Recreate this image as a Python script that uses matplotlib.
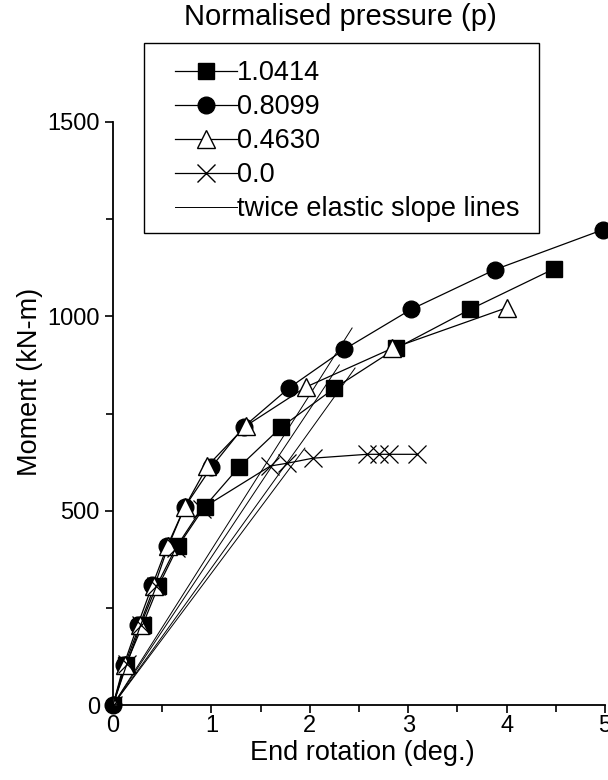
import matplotlib
matplotlib.use("Agg")
import matplotlib.pyplot as plt
from matplotlib.lines import Line2D
from matplotlib.patches import Rectangle
from matplotlib.ticker import MultipleLocator

plt.rcParams["font.family"] = ["Liberation Sans", "DejaVu Sans"]

# p = 1.0414 (squares)
rot_1 = [0.0, 0.13, 0.30, 0.46, 0.66, 0.93, 1.28, 1.71, 2.25, 2.88, 3.63, 4.48]
mom_1 = [0, 103, 205, 305, 408, 510, 612, 715, 815, 918, 1018, 1122]

# p = 0.8099 (circles)
rot_2 = [0.0, 0.11, 0.25, 0.40, 0.55, 0.73, 1.00, 1.33, 1.79, 2.35, 3.03, 3.88, 4.98]
mom_2 = [0, 103, 205, 308, 408, 510, 612, 716, 816, 915, 1018, 1120, 1223]

# p = 0.4630 (triangles)
rot_3 = [0.0, 0.12, 0.27, 0.42, 0.56, 0.73, 0.96, 1.35, 1.96, 2.84, 4.00]
mom_3 = [0, 103, 205, 305, 408, 510, 615, 718, 818, 918, 1022]

# p = 0.0 (crosses)
rot_4 = [0.0, 0.14, 0.28, 0.44, 0.64, 0.90, 1.60, 1.77, 2.03, 2.58, 2.70, 2.80, 3.09]
mom_4 = [0, 105, 205, 305, 405, 505, 615, 622, 635, 645, 645, 645, 645]

# twice elastic slope lines (end points, all start at origin)
slope_end_rot = [2.43, 2.30, 2.46, 1.95]
slope_end_mom = [970, 875, 867, 661]

W, H = 608, 780
fig = plt.figure(figsize=(W / 100, H / 100), dpi=100)
ax = fig.add_axes([113 / W, 1 - 705 / H, 492 / W, (705 - 122) / H])

for xe, ye in zip(slope_end_rot, slope_end_mom):
    ax.plot([0, xe], [0, ye], color="black", lw=0.7)

ax.plot(rot_1, mom_1, color="black", lw=0.9, marker="s", ms=11, mfc="black", mec="black")
ax.plot(rot_2, mom_2, color="black", lw=0.9, marker="o", ms=12, mfc="black", mec="black", clip_on=False)
ax.plot(rot_3, mom_3, color="black", lw=0.9, marker="^", ms=13, mfc="white", mec="black", mew=1.0)
ax.plot(rot_4, mom_4, color="black", lw=0.9, marker="x", ms=13, mec="black", mew=0.9)

ax.set_xlim(0, 5)
ax.set_ylim(0, 1500)
ax.xaxis.set_major_locator(MultipleLocator(1))
ax.xaxis.set_minor_locator(MultipleLocator(0.5))
ax.yaxis.set_major_locator(MultipleLocator(500))
ax.yaxis.set_minor_locator(MultipleLocator(250))
ax.tick_params(which="both", direction="out", labelsize=17, width=1.2)
ax.tick_params(which="major", length=6)
ax.tick_params(which="minor", length=5)
ax.tick_params(axis="x", which="major", pad=1)
ax.spines[["top", "right"]].set_visible(False)
ax.spines[["left", "bottom"]].set_linewidth(1.3)
ax.patch.set_alpha(0)

ax.set_xlabel("End rotation (deg.)", fontsize=19.5)
ax.set_ylabel("Moment (kN-m)", fontsize=19.5)
ax.xaxis.set_label_coords((362 - 113) / 492, (705 - 740) / 583)
ax.yaxis.set_label_coords((43 - 113) / 492, (705 - 382) / 583)

handles = [
    Line2D([], [], color="black", lw=0.9, marker="s", ms=11, mfc="black", mec="black"),
    Line2D([], [], color="black", lw=0.9, marker="o", ms=12, mfc="black", mec="black"),
    Line2D([], [], color="black", lw=0.9, marker="^", ms=13, mfc="white", mec="black"),
    Line2D([], [], color="black", lw=0.9, marker="x", ms=13, mec="black"),
    Line2D([], [], color="black", lw=0.7),
]
labels = ["1.0414", "0.8099", "0.4630", "0.0", "twice elastic slope lines"]
leg = fig.legend(handles, labels, loc="upper left",
                 bbox_to_anchor=(175 / W, 1 - 60 / H),
                 bbox_transform=fig.transFigure,
                 fontsize=19.5, frameon=False, handlelength=2.3,
                 handletextpad=0.0, labelspacing=0.3, borderpad=0,
                 borderaxespad=0)

# legend box drawn separately (title sits above it)
fig.patches.append(Rectangle((144 / W, 1 - 233 / H), (539 - 144) / W, (233 - 43) / H,
                             transform=fig.transFigure, fill=False,
                             edgecolor="black", lw=1.0))

fig.text(340 / W, 1 - 17 / H, "Normalised pressure (p)", fontsize=21,
         ha="center", va="center")

fig.savefig("out.png", dpi=100)
